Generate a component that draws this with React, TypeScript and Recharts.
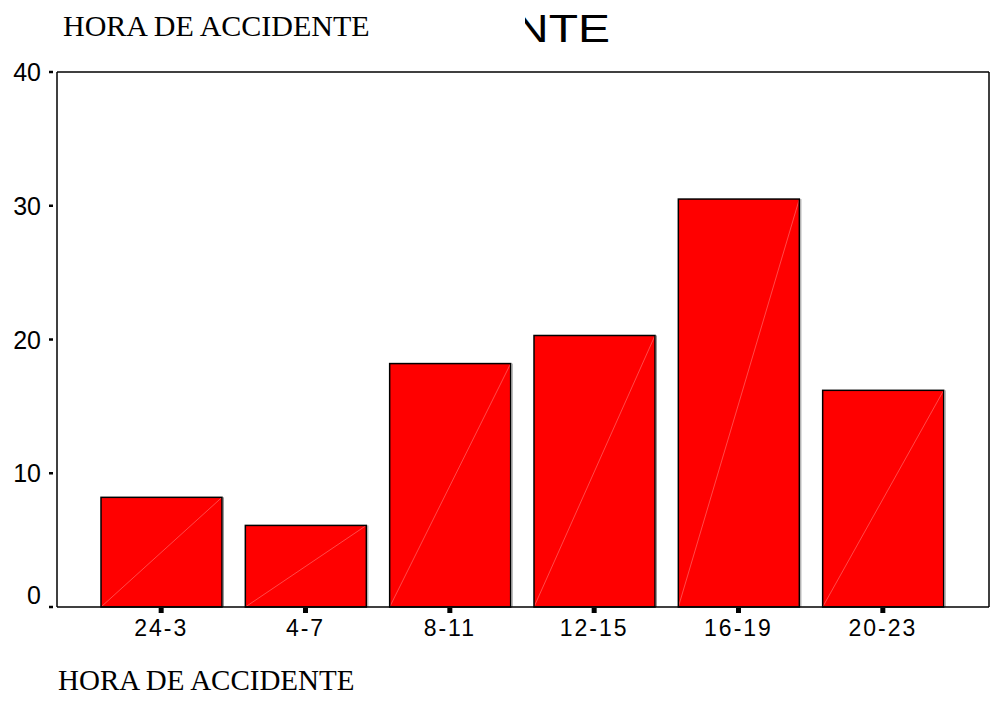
import { BarChart, Bar, XAxis, YAxis } from "recharts";

const categories = ["24-3", "4-7", "8-11", "12-15", "16-19", "20-23"];
const percents = [8.2, 6.1, 18.2, 20.3, 30.5, 16.2];
const yTicks = [0, 10, 20, 30, 40];
const titleText = "HORA DE ACCIDENTE";
const titleTail = "NTE";

const chartData = categories.map((c, i) => ({ name: c, value: percents[i] }));

const sansFont = "Arial, 'Liberation Sans', sans-serif";
const serifFont = "'Times New Roman', 'Liberation Serif', serif";

const RedBar = (props: any) => {
  const { x, y, width, height } = props;
  if (height == null || height <= 0) return null;
  return (
    <g>
      <rect x={x} y={y} width={width} height={height} fill="#ff0000" />
      <line
        x1={x}
        y1={y + height}
        x2={x + width}
        y2={y}
        stroke="#ff7a7a"
        strokeWidth={0.6}
      />
      <rect
        x={x}
        y={y}
        width={width}
        height={height}
        fill="none"
        stroke="#000"
        strokeWidth={1.5}
      />
      <line
        x1={x + width + 1.5}
        y1={y}
        x2={x + width + 1.5}
        y2={y + height}
        stroke="#999"
        strokeWidth={1}
      />
    </g>
  );
};

const YTick = (props: any) => {
  const { x, y, payload } = props;
  const lift = payload.value === 0 ? -12 : 0;
  return (
    <g>
      <line x1={x - 8} y1={y} x2={x - 4} y2={y} stroke="#000" strokeWidth={2.5} />
      <text
        x={x - 16}
        y={y + lift}
        textAnchor="end"
        dominantBaseline="central"
        fontFamily={sansFont}
        fontSize={25}
        fill="#000"
      >
        {payload.value}
      </text>
    </g>
  );
};

const XTick = (props: any) => {
  const { x, y, payload } = props;
  return (
    <g>
      <rect x={x - 2.5} y={y + 1} width={5} height={5} fill="#000" />
      <text
        x={x}
        y={y + 29}
        textAnchor="middle"
        fontFamily={sansFont}
        fontSize={23}
        letterSpacing={2}
        fill="#000"
      >
        {payload.value}
      </text>
    </g>
  );
};

export default function App() {
  return (
    <div
      style={{
        position: "absolute",
        top: 0,
        left: 0,
        width: 991,
        height: 713,
        background: "#fff",
        overflow: "hidden",
      }}
    >
      <BarChart
        width={991}
        height={713}
        data={chartData}
        margin={{ top: 71, right: 1, bottom: 66, left: 0 }}
        barSize={121}
      >
        <XAxis
          dataKey="name"
          height={40}
          padding={{ left: 32, right: 34 }}
          axisLine={{ stroke: "#000", strokeWidth: 1.5 }}
          tickLine={false}
          tickSize={0}
          tickMargin={0}
          tick={<XTick />}
          interval={0}
        />
        <XAxis
          xAxisId="top"
          dataKey="name"
          orientation="top"
          height={1}
          padding={{ left: 32, right: 34 }}
          axisLine={{ stroke: "#000", strokeWidth: 1.5 }}
          tickLine={false}
          tick={false}
        />
        <YAxis
          width={57}
          domain={[0, 40]}
          ticks={yTicks}
          interval={0}
          axisLine={{ stroke: "#000", strokeWidth: 1.5 }}
          tickLine={false}
          tickSize={0}
          tickMargin={0}
          tick={<YTick />}
        />
        <YAxis
          yAxisId="right"
          orientation="right"
          width={1}
          domain={[0, 40]}
          axisLine={{ stroke: "#000", strokeWidth: 1.5 }}
          tickLine={false}
          tick={false}
        />
        <Bar dataKey="value" shape={<RedBar />} isAnimationActive={false} />
      </BarChart>
      <svg
        width={991}
        height={713}
        style={{ position: "absolute", top: 0, left: 0, pointerEvents: "none" }}
      >
        <defs>
          <clipPath id="titleClip">
            <rect x={525} y={0} width={200} height={60} />
          </clipPath>
        </defs>
        <text x={63} y={36} fontFamily={serifFont} fontSize={30} fill="#000">
          {titleText}
        </text>
        <text
          x={514}
          y={42}
          fontFamily={sansFont}
          fontSize={39}
          textLength={96}
          lengthAdjust="spacingAndGlyphs"
          fill="#000"
          clipPath="url(#titleClip)"
        >
          {titleTail}
        </text>
        <text x={58} y={690} fontFamily={serifFont} fontSize={29} fill="#000">
          {titleText}
        </text>
      </svg>
    </div>
  );
}
